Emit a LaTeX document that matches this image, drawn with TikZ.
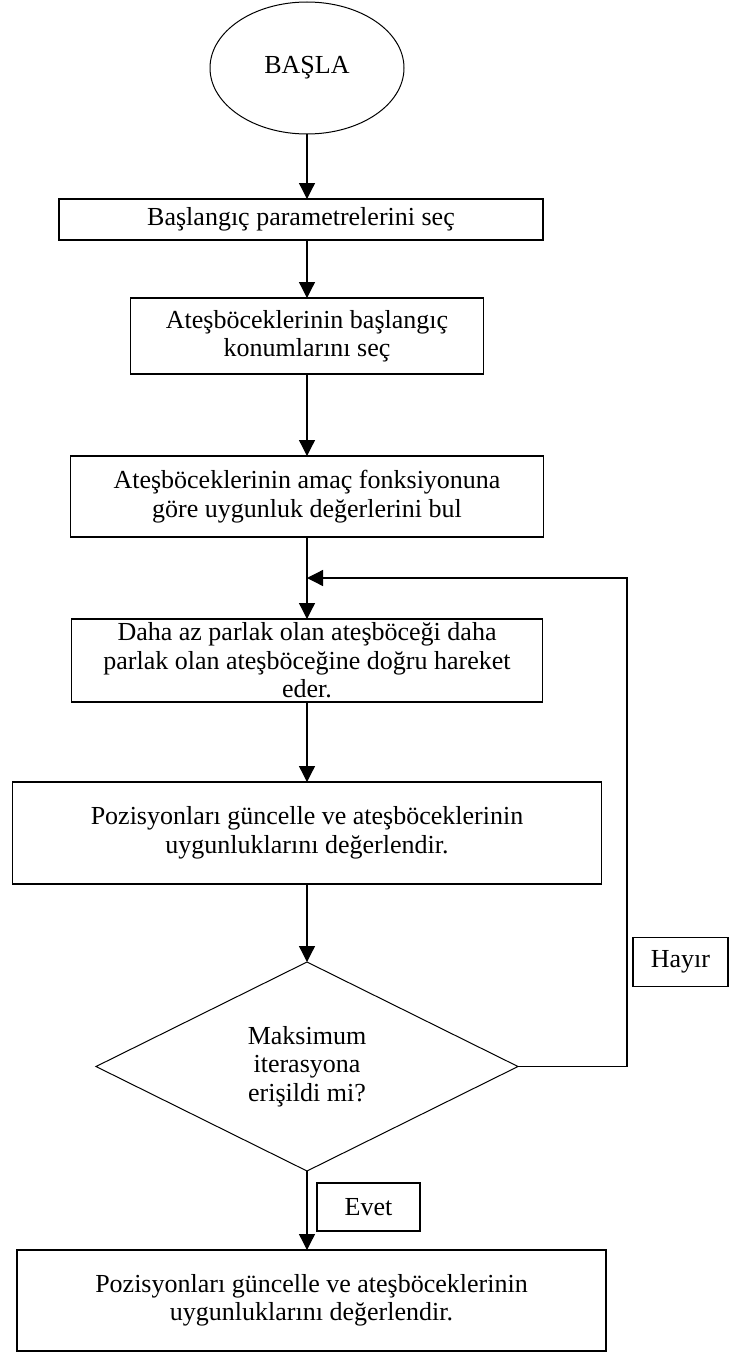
\documentclass[tikz,border=0pt]{standalone}
\usepackage{fontspec}
\setmainfont{Liberation Serif}
\usepackage{tikz}
\usetikzlibrary{arrows.meta, positioning, shapes.geometric}

\begin{document}
\begin{tikzpicture}[x=1pt, y=1pt,
  every node/.style={font=\fontsize{26}{28.5}\selectfont, align=center, inner sep=0pt, outer sep=0pt},
  startnode/.style={ellipse, draw, line width=1pt, minimum width=194pt, minimum height=132pt},
  box/.style={rectangle, draw, line width=1.3pt},
  decision/.style={diamond, draw, line width=1pt, aspect=2, minimum width=422pt, minimum height=209pt},
  lbl/.style={rectangle, draw, line width=1.2pt},
  arr/.style={-{Triangle[length=16pt, width=16pt]}, line width=1.3pt},
]
  \useasboundingbox (0,0) rectangle (729,-1354);

  % Start
  \node[startnode] (start) at (307,-68) {BAŞLA};

  % Steps
  \node[box, below=65pt of start, xshift=-6pt, minimum width=484pt, minimum height=41pt] (init) {Başlangıç parametrelerini seç};
  \node[box, below=58pt of init, xshift=6pt, minimum width=353pt, minimum height=76pt] (pos) {Ateşböceklerinin başlangıç\\konumlarını seç};
  \node[box, below=82pt of pos, minimum width=473pt, minimum height=81pt] (fit) {Ateşböceklerinin amaç fonksiyonuna\\göre uygunluk değerlerini bul};
  \node[box, below=82pt of fit, minimum width=471pt, minimum height=83pt] (move) {Daha az parlak olan ateşböceği daha\\parlak olan ateşböceğine doğru hareket\\eder.};
  \node[box, below=80pt of move, minimum width=589pt, minimum height=102pt] (upd) {Pozisyonları güncelle ve ateşböceklerinin\\uygunluklarını değerlendir.};

  % Decision
  \node[decision, below=78pt of upd] (dec) {Maksimum\\iterasyona\\erişildi mi?};

  % Final step
  \node[box, below=79pt of dec, xshift=4.5pt, minimum width=589pt, minimum height=101pt] (final) {Pozisyonları güncelle ve ateşböceklerinin\\uygunluklarını değerlendir.};

  % Loop points
  \coordinate[below=41pt of fit.south] (join);
  \coordinate[right=109pt of dec.east] (corner);

  % Labels
  \node[lbl, above right=80pt and 6pt of corner, minimum width=95pt, minimum height=49pt] (no) {Hayır};
  \node[lbl, below right=12pt and 10pt of dec.south, minimum width=103pt, minimum height=48pt] (yes) {Evet};

  % Arrows
  \draw[arr] (start) -- (init.north -| start);
  \draw[arr] (init.south -| start) -- (pos);
  \draw[arr] (pos) -- (fit);
  \draw[arr] (fit) -- (move);
  \draw[arr] (move) -- (upd);
  \draw[arr] (upd) -- (dec);
  \draw[arr] (dec) -- (final.north -| dec);
  \draw[arr] (dec.east) -- (corner) |- (join);

\end{tikzpicture}
\end{document}
